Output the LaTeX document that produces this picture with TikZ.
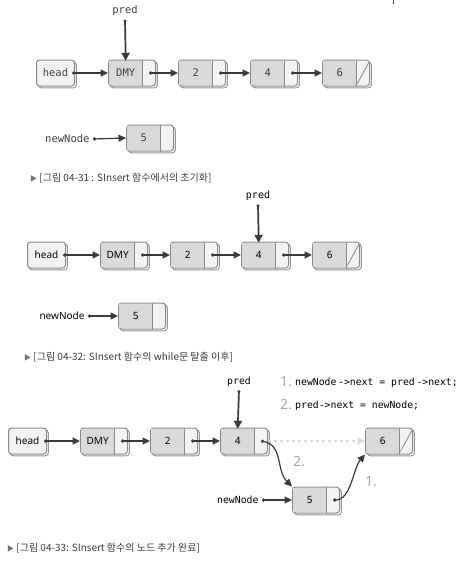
\documentclass[tikz,border=0pt]{standalone}
\usepackage{fontspec}
\usetikzlibrary{positioning,arrows.meta,shadows}
\newfontfamily\krfont{Noto Sans CJK KR}
\newfontfamily\monofont{DejaVu Sans Mono}
\newfontfamily\sansfont{Noto Sans}
\definecolor{framec}{HTML}{8A8A8A}
\definecolor{datac}{HTML}{D9D9D9}
\definecolor{ptrc}{HTML}{F3F3F3}
\definecolor{linkc}{HTML}{3A3A3A}
\definecolor{capc}{HTML}{3C3C3C}

\tikzset{
  celltext/.style={font=\sansfont\fontsize{10}{12}\selectfont},
  cellframe/.style={draw=framec, line width=1pt, fill=ptrc, rounded corners=3pt,
    anchor=west, minimum width=47pt, minimum height=26pt, inner sep=0pt,
    general shadow={shadow xshift=1.8pt, shadow yshift=-1.8pt, fill=white, draw=framec!90}},
  headbox/.style={cellframe, celltext, minimum width=38pt},
  datapart/.style={celltext, fill=datac, minimum width=33pt, minimum height=24pt, inner sep=0pt},
  ptrpart/.style={minimum width=13pt, minimum height=24pt, inner sep=0pt},
  cellbar/.style={draw=framec, line width=0.8pt},
  ptrlink/.style={draw=linkc, line width=1.2pt, {Circle[length=3.2pt]}-{Triangle[length=7.5pt,width=7pt]}},
  predlink/.style={draw=linkc, line width=1.7pt, {Circle[length=2.8pt]}-{Triangle[length=8pt,width=8pt]}},
  fadelink/.style={draw=black!15, line width=1.2pt, dashed, -{Triangle[length=7.5pt,width=7pt]}},
  figcap/.style={anchor=west, font=\krfont\fontsize{10}{12}\selectfont, text=capc, inner sep=0pt},
  stepnum/.style={font=\sansfont\bfseries\fontsize{14}{16}\selectfont, text=black!35},
}

% one list cell: #1 name, #2 west point of the frame, #3 data
\newcommand{\lnode}[3]{%
  \node[cellframe] (f#1) at (#2) {};
  \node[datapart, right=1pt of f#1.west] (d#1) {#3};
  \node[ptrpart, right=0pt of d#1] (p#1) {};
  \draw[cellbar] (d#1.east |- f#1.north) -- (d#1.east |- f#1.south);
}

\begin{document}
\begin{tikzpicture}[x=1pt, y=-1pt]
\useasboundingbox (0,0) rectangle (465,570);

% small red mark at the top
\draw[red, line width=0.6pt] (393,0) -- (393,4);

% ---- figure 04-31
\begin{scope}[celltext/.style={font=\monofont\fontsize{10.5}{12}\selectfont, text=black!75}]
\node[headbox] (hd1) at (36,73) {head};
\lnode{a1}{108,73}{DMY}
\lnode{a2}{178,73}{2}
\lnode{a4}{250,73}{4}
\lnode{a6}{322,73}{6}
\lnode{a5}{126,138}{5}
\node[celltext] (pr1) at (125,11) {pred};
\node[celltext, anchor=east] (nn1) at (93,139) {newNode};
\end{scope}

\draw[ptrlink, shorten <=-3pt] (hd1.east) -- (fa1.west);
\draw[ptrlink] (pa1.center) -- (fa2.west);
\draw[ptrlink] (pa2.center) -- (fa4.west);
\draw[ptrlink] (pa4.center) -- (fa6.west);
\draw[cellbar, shorten <=2pt, shorten >=2pt] (pa6.south west) -- (pa6.north east);
\draw[predlink] (pr1.south) -- (da1.north);
\draw[ptrlink] (nn1.east) -- (fa5.west);

\node[figcap] (cap1) at (30,178) {{\color{black!55}\fontsize{7}{8}\selectfont ▶} [그림 04-31 : SInsert 함수에서의 초기화]};

% ---- figure 04-32
\node[headbox] (hd2) at (27,255) {head};
\lnode{b1}{100,255}{DMY}
\lnode{b2}{170,255}{2}
\lnode{b4}{241,255}{4}
\lnode{b6}{312,255}{6}
\lnode{b5}{118,316}{5}
\node[celltext, anchor=east] (nn2) at (88,316) {newNode};
\node[font=\monofont\fontsize{10}{12}\selectfont] (pr2) at (258,196) {pred};

\draw[ptrlink, shorten <=-3pt] (hd2.east) -- (fb1.west);
\draw[ptrlink] (pb1.center) -- (fb2.west);
\draw[ptrlink] (pb2.center) -- (fb4.west);
\draw[ptrlink] (pb4.center) -- (fb6.west);
\draw[cellbar, shorten <=2pt, shorten >=2pt] (pb6.south west) -- (pb6.north east);
\draw[predlink] (pr2.south) -- (db4.north);
\draw[ptrlink] (nn2.east) -- (fb5.west);

\node[figcap] (cap2) at (24,357) {{\color{black!55}\fontsize{7}{8}\selectfont ▶} [그림 04-32: SInsert 함수의 while문 탈출 이후]};

% ---- figure 04-33
\node[headbox] (hd3) at (8,441) {head};
\lnode{c1}{80,441}{DMY}
\lnode{c2}{150,441}{2}
\lnode{c4}{220,441}{4}
\lnode{c6}{365,441}{6}
\lnode{c5}{292,500}{5}
\begin{scope}[font=\monofont\fontsize{9.8}{12}\selectfont]
\node (pr3) at (239,382) {pred};
\node[anchor=east] (nn3) at (262,500) {newNode};
\node[anchor=west, inner sep=0pt] (code1) at (295,383) {newNode\,->next = pred\,->next;};
\node[anchor=west, inner sep=0pt] (code2) at (295,406) {pred->next = newNode;};
\end{scope}
\node[stepnum, anchor=east, inner sep=0pt] (k1) at (292,382) {1.};
\node[stepnum, anchor=east, inner sep=0pt] (k2) at (292,405) {2.};
\node[stepnum] (m2) at (299,462) {2.};
\node[stepnum] (m1) at (371,482) {1.};

\draw[ptrlink, shorten <=-3pt] (hd3.east) -- (fc1.west);
\draw[ptrlink] (pc1.center) -- (fc2.west);
\draw[ptrlink] (pc2.center) -- (fc4.west);
\draw[fadelink] (fc4.east) -- (fc6.west);
\draw[cellbar, shorten <=2pt, shorten >=2pt] (pc6.south west) -- (pc6.north east);
\draw[predlink] (pr3.south) -- (dc4.north);
\draw[ptrlink] (nn3.east) -- (fc5.west);
\draw[ptrlink] (pc4.center) .. controls +(22,4) and +(-16,-16) .. (fc5.north west);
\draw[ptrlink] (pc5.center) .. controls +(18,0) and +(-12,14) .. (fc6.south west);

\node[figcap] (cap3) at (7,548) {{\color{black!55}\fontsize{7}{8}\selectfont ▶} [그림 04-33: SInsert 함수의 노드 추가 완료]};

\end{tikzpicture}
\end{document}
